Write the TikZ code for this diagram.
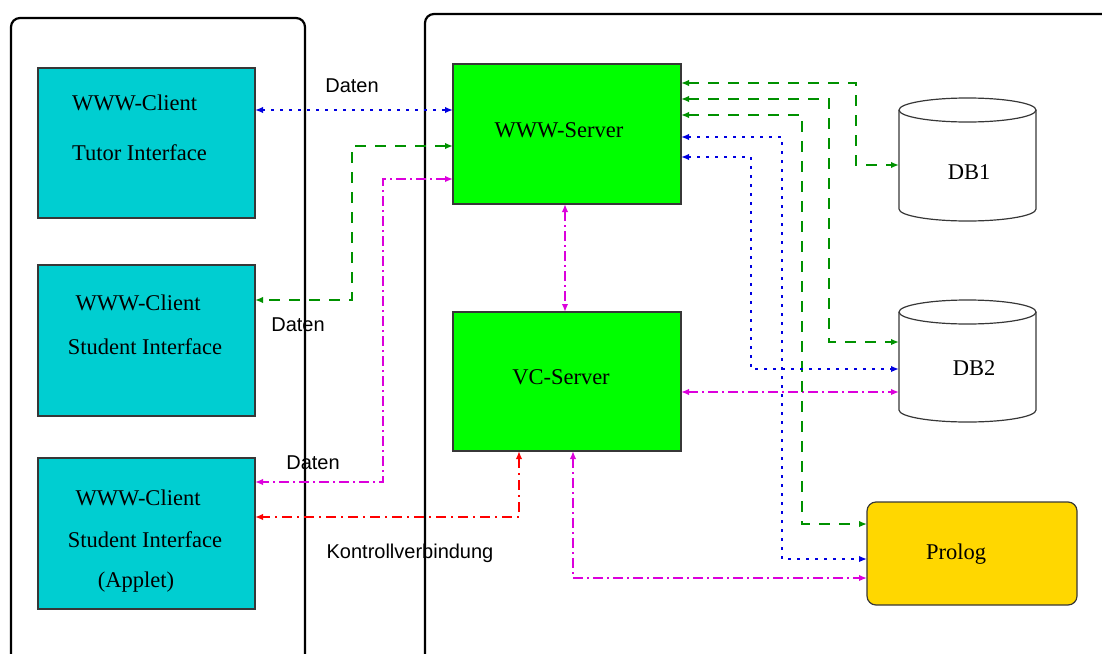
\documentclass[tikz,border=0pt]{standalone}
\usepackage{fontspec}
\setmainfont{Liberation Serif}
\newfontfamily\labelsans{Liberation Sans}
\usetikzlibrary{arrows.meta,calc}
\definecolor{cyanbox}{RGB}{0,206,209}
\definecolor{greenbox}{RGB}{0,255,0}
\definecolor{goldbox}{RGB}{255,215,0}
\definecolor{boxline}{RGB}{55,55,55}
\definecolor{lgreen}{RGB}{0,145,0}
\definecolor{lblue}{RGB}{0,0,225}
\definecolor{lmag}{RGB}{220,0,220}
\definecolor{lred}{RGB}{255,0,0}
\begin{document}
\begin{tikzpicture}[x=1pt,y=-1pt,
  panel/.style={draw=black, line width=2.2pt, rounded corners=9pt},
  box/.style={draw=boxline, line width=1.2pt, inner sep=0pt, outer sep=0pt},
  client/.style={box, fill=cyanbox, minimum width=217pt},
  server/.style={box, fill=greenbox, minimum width=228pt},
  dbbody/.style={draw=none, inner sep=0pt, outer sep=0pt, minimum width=137pt},
  dbline/.style={draw=boxline, line width=1.2pt},
  txt/.style={anchor=base, inner sep=0pt, font=\fontsize{22.5}{27}\selectfont},
  lab/.style={anchor=base, inner sep=0pt, font=\labelsans\fontsize{20}{24}\selectfont},
  tips/.style={<->, >={Latex[length=8pt,width=6.5pt]}},
  gline/.style={tips, draw=lgreen, line width=2.6pt, dash pattern=on 11pt off 9pt},
  bline/.style={tips, draw=lblue, line width=2.5pt, dash pattern=on 2.5pt off 6.5pt},
  mline/.style={tips, draw=lmag, line width=2.6pt, dash pattern=on 10pt off 4pt on 2pt off 4pt},
  rline/.style={tips, draw=lred, line width=2.6pt, dash pattern=on 10pt off 5pt on 2pt off 5pt}]
\useasboundingbox (0,0) rectangle (1102,653);
\clip (0,0) rectangle (1102,653);

% panels
\draw[panel] (11,18) rectangle (305,690);
\draw[panel] (425,14) rectangle (1140,690);

% client boxes
\node[client, minimum height=150pt] (c1) at (146.5,143) {};
\node[client, minimum height=151pt] (c2) at (146.5,340.5) {};
\node[client, minimum height=151pt] (c3) at (146.5,533.5) {};
\node[txt] (c1a) at (134.5,110) {WWW-Client};
\node[txt] (c1b) at (139.5,160) {Tutor Interface};
\node[txt] (c2a) at (138,310) {WWW-Client};
\node[txt] (c2b) at (145,354) {Student Interface};
\node[txt] (c3a) at (138,505) {WWW-Client};
\node[txt] (c3b) at (145,547) {Student Interface};
\node[txt] (c3c) at (136,587) {(Applet)};

% servers
\node[server, minimum height=140pt] (ws) at (567,134) {};
\node[server, minimum height=139pt] (vc) at (567,381.5) {};
\node[txt] (wst) at (559,137) {WWW-Server};
\node[txt] (vct) at (561,384) {VC-Server};

% prolog
\node[box, fill=goldbox, rounded corners=9pt, minimum width=210pt, minimum height=103pt] (pl) at (972,553.5) {};
\node[txt] (plt) at (956,559) {Prolog};

% databases
\node[dbbody, minimum height=99pt] (db1) at (967.5,159.5) {};
\draw[dbline] (db1.north west) -- (db1.south west) arc[start angle=180, end angle=360, x radius=68.5pt, y radius=12pt] -- (db1.north east);
\draw[dbline] (db1.north) ellipse [x radius=68.5pt, y radius=12pt];
\node[txt] (db1t) at (969,179) {DB1};
\node[dbbody, minimum height=98pt] (db2) at (967.5,361) {};
\draw[dbline] (db2.north west) -- (db2.south west) arc[start angle=180, end angle=360, x radius=68.5pt, y radius=12pt] -- (db2.north east);
\draw[dbline] (db2.north) ellipse [x radius=68.5pt, y radius=12pt];
\node[txt] (db2t) at (974,375) {DB2};

% connectors to clients
\draw[bline] (c1.east |- 0,110) -- (ws.west |- 0,110);
\node[lab] (l1) at (352,92) {Daten};
\draw[gline] (ws.west |- 0,146) -- (352,146) -- (352,300) -- (c2.east |- 0,300);
\node[lab] (l2) at (298,331) {Daten};
\draw[mline] (ws.west |- 0,179) -- (383,179) -- (383,482) -- (c3.east |- 0,482);
\node[lab] (l3) at (313,469) {Daten};
\draw[rline] (vc.south -| 519,0) -- (519,517) -- (c3.east |- 0,517);
\node[lab] (l4) at (410,558) {Kontrollverbindung};

% server to server
\draw[mline] (ws.south -| 565,0) -- (vc.north -| 565,0);
\draw[mline] (vc.south -| 573,0) -- (573,578) -- (pl.west |- 0,578);
\draw[mline] (vc.east |- 0,392) -- (db2.west |- 0,392);

% WWW-Server to databases / prolog
\draw[gline] (ws.east |- 0,83) -- (856,83) -- (856,165) -- (db1.west |- 0,165);
\draw[gline] (ws.east |- 0,99) -- (829,99) -- (829,342) -- (db2.west |- 0,342);
\draw[gline] (ws.east |- 0,115) -- (802,115) -- (802,524) -- (pl.west |- 0,524);
\draw[bline] (ws.east |- 0,137) -- (782,137) -- (782,559) -- (pl.west |- 0,559);
\draw[bline] (ws.east |- 0,157) -- (751,157) -- (751,369) -- (db2.west |- 0,369);
\end{tikzpicture}
\end{document}
